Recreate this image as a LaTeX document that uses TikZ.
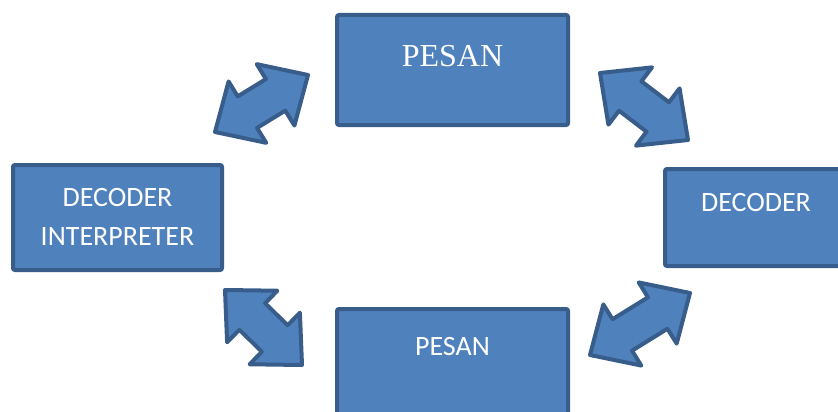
\documentclass[tikz,border=0pt]{standalone}
\usepackage{fontspec}
\setmainfont{Liberation Serif}
\newfontfamily\calibri{Carlito}
\usepackage{xcolor}
\usetikzlibrary{calc}
\definecolor{boxblue}{RGB}{79,129,189}
\definecolor{edgeblue}{RGB}{56,93,138}
\tikzset{
  every node/.style = {font = \calibri\fontsize{28}{39}\selectfont, text=white}
}
\tikzset{
  msgbox/.style = {draw=edgeblue, fill=boxblue, line width=4pt, rounded corners=2pt, inner sep=0pt},
  blockarrow/.style = {draw=edgeblue, fill=boxblue, line width=4pt, line join=round,
    to path={let \p1=($(\tikztotarget)-(\tikztostart)$), \n1={atan2(\y1,\x1)} in
      (\tikztostart)
      -- ($(\tikztostart)+({\n1}:38pt)+({\n1+90}:36pt)$)
      -- ($(\tikztostart)+({\n1}:38pt)+({\n1+90}:18.5pt)$)
      -- ($(\tikztotarget)+({\n1}:-38pt)+({\n1+90}:18.5pt)$)
      -- ($(\tikztotarget)+({\n1}:-38pt)+({\n1+90}:36pt)$)
      -- (\tikztotarget)
      -- ($(\tikztotarget)+({\n1}:-38pt)+({\n1-90}:36pt)$)
      -- ($(\tikztotarget)+({\n1}:-38pt)+({\n1-90}:18.5pt)$)
      -- ($(\tikztostart)+({\n1}:38pt)+({\n1-90}:18.5pt)$)
      -- ($(\tikztostart)+({\n1}:38pt)+({\n1-90}:36pt)$)
      -- cycle}}
}

\begin{document}
\begin{tikzpicture}[x=1pt,y=-1pt]
\useasboundingbox (0,0) rectangle (838,412);
\clip (0,0) rectangle (838,412);

% The boxes
\node[msgbox, minimum width=231pt, minimum height=110pt] (msgTop) at (452.5,70) {};
\node[msgbox, minimum width=209pt, minimum height=105pt] (decLeft) at (117.5,217.5) {};
\node[msgbox, minimum width=186pt, minimum height=97pt] (decRight) at (758,217.5) {};
\node[msgbox, minimum width=231pt, minimum height=112pt] (msgBottom) at (452.5,365) {};

% Their texts
\node[font=\fontsize{32}{38}\selectfont] (txtTop) at (452.5,56) {PESAN};
\node[align=center] (txtLeft) at (117.5,216.5) {DECODER\\INTERPRETER};
\node (txtRight) at (756,203) {DECODER};
\node (txtBottom) at (452.5,347) {PESAN};

% Ends of the block arrows
% tl        tr
%     (boxes)
% bl        br
\coordinate (tlA) at (215,132);
\coordinate (tlB) at (308,75);
\coordinate (trA) at (600,73);
\coordinate (trB) at (688,140);
\coordinate (blA) at (225,290);
\coordinate (blB) at (302,365);
\coordinate (brA) at (590,355);
\coordinate (brB) at (690,293);

\draw[blockarrow] (tlA) to (tlB);
\draw[blockarrow] (trA) to (trB);
\draw[blockarrow] (blA) to (blB);
\draw[blockarrow] (brA) to (brB);
\end{tikzpicture}
\end{document}
